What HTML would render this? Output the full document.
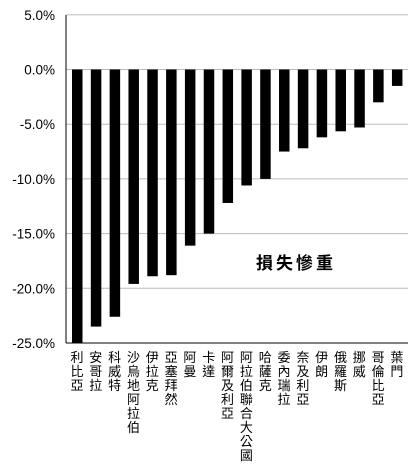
<!DOCTYPE html>
<html><head><meta charset="utf-8"><style>
body{margin:0;background:#fff;width:411px;height:464px;overflow:hidden}
text{font-family:"Liberation Sans","Noto Sans CJK TC",sans-serif}
</style></head><body>
<svg id="c" width="411" height="464"></svg>
<script>
const categories=["利比亞","安哥拉","科威特","沙烏地阿拉伯","伊拉克","亞塞拜然","阿曼","卡達","阿爾及利亞","阿拉伯聯合大公國","哈薩克","委內瑞拉","奈及利亞","伊朗","俄羅斯","挪威","哥倫比亞","葉門"];
const values=[-25,-23.5,-22.6,-19.6,-18.9,-18.8,-16.1,-15.0,-12.2,-10.6,-10.0,-7.5,-7.2,-6.2,-5.65,-5.3,-3.0,-1.5];
const ticks=[5,0,-5,-10,-15,-20,-25];
const tickLabels=["5.0%","0.0%","-5.0%","-10.0%","-15.0%","-20.0%","-25.0%"];
const NS="http://www.w3.org/2000/svg",svg=document.getElementById('c');
const y=v=>69.5-(v)*10.94;
const x=i=>77+i*18.82;
function mk(t,a){const e=document.createElementNS(NS,t);for(const k in a)e.setAttribute(k,a[k]);svg.appendChild(e);return e;}
ticks.forEach((t,i)=>{
 const g=mk('line',{x1:66,x2:408,y1:y(t),y2:y(t),stroke:i==ticks.length-1?'#000':'#bbb','stroke-width':1});
 
 
 const l=mk('text',{x:55,y:y(t)+5,'text-anchor':'end','font-size':13.5,fill:'#000'});
 l.textContent=tickLabels[i];
 
 
});
const ax=mk('line',{x1:66,x2:66,y1:15,y2:343,stroke:'#000','stroke-width':1});


categories.forEach((c,i)=>{
 const b=mk('rect',{x:x(i)-5,y:y(0),width:10.5,height:y(values[i])-y(0),fill:'#000'});
 
 
 [...c].forEach((ch,j)=>{
  const t=mk('text',{x:x(i),y:362+j*14,'text-anchor':'middle','font-size':13,fill:'#000'});
  t.textContent=ch;
  
  
 });
});
const a=mk('text',{x:296,y:269,'text-anchor':'middle','font-size':17,'font-weight':'bold','letter-spacing':3,fill:'#000'});
a.textContent="損失慘重";


</script>
</body></html>
